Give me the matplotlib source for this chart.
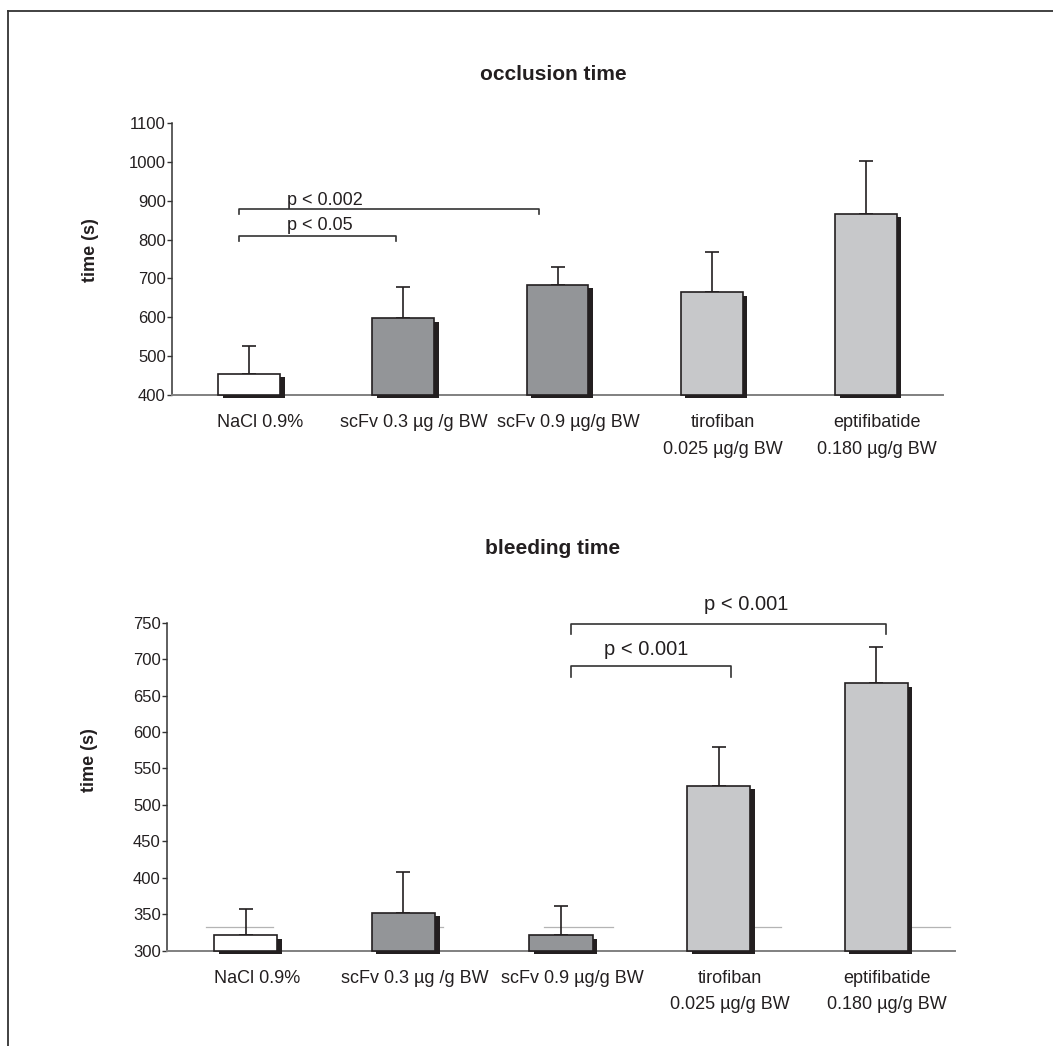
import numpy as np
import matplotlib
matplotlib.use("Agg")
import matplotlib.pyplot as plt
from matplotlib.lines import Line2D
from matplotlib.patheffects import SimplePatchShadow, Normal

plt.rcParams["font.family"] = ["Liberation Sans", "DejaVu Sans"]

groups = ["NaCl 0.9%", "scFv 0.3 µg /g BW", "scFv 0.9 µg/g BW",
          "tirofiban\n0.025 µg/g BW", "eptifibatide\n0.180 µg/g BW"]
bar_colors = ["#ffffff", "#939598", "#939598", "#c7c8ca", "#c7c8ca"]

# occlusion time (s): mean and upper SD end
occl_mean = [454, 598, 684, 665, 867]
occl_top = [526, 679, 729, 769, 1002]

# bleeding time (s)
bleed_mean = [321, 352, 321, 526, 667]
bleed_top = [357, 408, 361, 580, 717]

# significance brackets: (x start, x end, bracket y)
occl_sig = [(-0.065, 0.95, 810), (-0.065, 1.88, 878)]
bleed_sig = [(2.065, 3.08, 690), (2.065, 4.06, 748)]

# faint reference line remnants in the bleeding panel
bleed_ref_y = 333
bleed_ref_segs = [(-0.25, 0.175), (1.0, 1.25), (1.895, 2.327), (3.0, 3.394), (4.0, 4.467)]

EDGE = "#231f20"
W, H = 1053, 1046

fig = plt.figure(figsize=(W / 100, H / 100), dpi=100)


def panel(rect, means, tops, ylim, step, sig, tick_h, ylab_xy):
    ax = fig.add_axes(rect)
    x = np.arange(len(means))
    means = np.asarray(means)
    err = np.asarray(tops) - means
    ax.errorbar(x, means, yerr=[np.zeros_like(err), err], fmt="none",
                ecolor=EDGE, elinewidth=1.2, capsize=5, capthick=1.2, zorder=2)
    bars = ax.bar(x, means - ylim[0], bottom=ylim[0], width=0.4, color=bar_colors,
                  edgecolor=EDGE, linewidth=1.2, zorder=3)
    for b in bars:
        b.set_clip_on(False)
        b.set_path_effects([SimplePatchShadow(offset=(3.3, -2.5), shadow_rgbFace=EDGE,
                                              alpha=1.0), Normal()])
    ax.set_xlim(-0.5, 4.5)
    ax.set_ylim(*ylim)
    ax.set_yticks(np.arange(ylim[0], ylim[1] + 1, step))
    ax.spines[["top", "right"]].set_visible(False)
    ax.spines["left"].set_color("#333333")
    ax.spines["left"].set_linewidth(1.1)
    ax.spines["bottom"].set_color("#808080")
    ax.spines["bottom"].set_linewidth(1.4)
    ax.tick_params(axis="y", direction="out", length=3.5, width=1, color="#333333",
                   labelsize=12, pad=1, labelcolor=EDGE)
    ax.set_xticks(x + 0.07, groups, fontsize=13, linespacing=1.7, color=EDGE)
    ax.tick_params(axis="x", length=0, pad=14)
    ax.set_ylabel("time (s)", fontsize=13, fontweight="bold", color=EDGE)
    ax.yaxis.set_label_coords(*ylab_xy)

    for x0, x1, y in sig:
        ax.plot([x0, x0, x1, x1], [y - tick_h, y, y, y - tick_h], color="#333333",
                lw=1.2, clip_on=False, zorder=4)
    return ax


ax1 = panel([172 / W, 1 - 395 / H, 771 / W, 272 / H], occl_mean, occl_top,
            (400, 1100), 100, occl_sig, 13, (-0.095, 0.533))
ax1.text(0.245, 889, "p < 0.002", fontsize=13, va="baseline", color=EDGE)
ax1.text(0.245, 825, "p < 0.05", fontsize=13, va="baseline", color=EDGE)

ax2 = panel([167 / W, 1 - 950.7 / H, 788 / W, 328 / H], bleed_mean, bleed_top,
            (300, 750), 50, bleed_sig, 14, (-0.087, 0.581))
ax2.text(2.905, 768, "p < 0.001", fontsize=14.5, va="baseline", color=EDGE)
ax2.text(2.276, 706, "p < 0.001", fontsize=14.5, va="baseline", color=EDGE)
for s0, s1 in bleed_ref_segs:
    ax2.plot([s0, s1], [bleed_ref_y, bleed_ref_y], color="#b4b4b4", lw=0.9, zorder=1)

fig.text(553 / W, 1 - 75 / H, "occlusion time", ha="center", va="center",
         fontsize=15, fontweight="bold", color=EDGE)
fig.text(553 / W, 1 - 548 / H, "bleeding time", ha="center", va="center",
         fontsize=15, fontweight="bold", color=EDGE)

# frame around the figure (top and left edges visible)
fig.add_artist(Line2D([8 / W, 1], [1 - 11 / H] * 2, color="#333333", lw=1.3))
fig.add_artist(Line2D([8 / W] * 2, [0, 1 - 11 / H], color="#333333", lw=1.3))

fig.savefig("out.png", dpi=100)
